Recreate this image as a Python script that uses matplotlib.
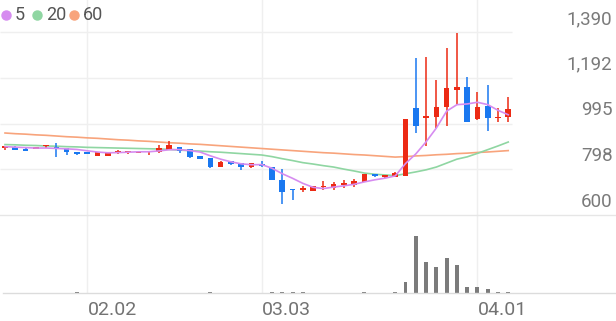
import matplotlib
matplotlib.use("Agg")
import matplotlib.pyplot as plt
import pandas as pd
from matplotlib.lines import Line2D

plt.rcParams["font.family"] = ["Roboto", "DejaVu Sans"]

# 일봉 OHLC (50거래일)
opens = [890, 895, 885, 885, 896, 891, 889, 872, 868, 855,
         856, 872, 870, 868, 870, 872, 881, 893, 885, 855,
         846, 807, 833, 823, 806, 821, 807, 751, 711, 710,
         705, 720, 717, 730, 730, 742, 777, 766, 765, 770,
         1063, 1017, 1024, 1065, 1140, 1154, 1014, 1071, 1017, 1022]
highs = [897, 896, 893, 895, 902, 911, 890, 873, 869, 873,
         872, 880, 876, 873, 876, 902, 919, 895, 887, 856,
         847, 831, 834, 825, 824, 833, 808, 799, 711, 725,
         726, 747, 742, 751, 755, 778, 778, 773, 784, 1015,
         1279, 1281, 1183, 1322, 1387, 1194, 1132, 1161, 1063, 1111]
lows = [882, 880, 876, 883, 889, 850, 859, 859, 862, 854,
        855, 863, 864, 866, 859, 868, 880, 867, 848, 840,
        805, 806, 817, 794, 805, 809, 750, 646, 665, 699,
        704, 708, 708, 717, 721, 741, 764, 760, 764, 769,
        953, 899, 974, 984, 1075, 1000, 1009, 963, 1003, 1000]
closes = [896, 881, 877, 893, 899, 887, 872, 864, 864, 872,
          871, 876, 873, 872, 873, 889, 902, 876, 850, 842,
          807, 830, 819, 806, 823, 810, 751, 701, 707, 714,
          725, 724, 733, 734, 747, 777, 768, 769, 783, 1014,
          984, 1029, 1067, 1147, 1154, 1000, 1065, 1017, 1024, 1058]
volume = [4, 4, 4, 4, 4, 4, 4, 8, 4, 4,
          4, 4, 4, 4, 4, 4, 4, 4, 4, 4,
          6, 4, 4, 4, 4, 4, 8, 12, 10, 8,
          4, 4, 4, 4, 4, 6, 5, 4, 8, 110,
          575, 315, 260, 355, 280, 60, 60, 45, 12, 12]

ma5_head = [895, 893, 891, 889]
ma20 = [904, 903, 901, 900, 898, 897, 895, 894, 892, 891,
        890, 889, 888, 887, 886, 885, 883, 880, 878, 876,
        873, 871, 868, 865, 862, 859, 852, 843, 835, 826,
        820, 813, 807, 798, 790, 781, 776, 773, 770, 778,
        786, 795, 807, 824, 841, 851, 866, 882, 898, 915]
ma60 = [954, 951, 949, 946, 944, 941, 938, 936, 933, 931,
        928, 925, 923, 920, 918, 915, 912, 910, 907, 905,
        902, 899, 896, 893, 890, 887, 884, 881, 878, 875,
        872, 869, 867, 864, 861, 859, 856, 853, 850, 852,
        855, 857, 860, 862, 865, 867, 870, 872, 875, 878]

price_ticks = [600, 798, 995, 1192, 1390]
date_pos = [8, 25, 46]
date_labels = ["02.02", "03.03", "04.01"]

RED, BLUE = "#ec2a14", "#1a78f0"
C5, C20, C60 = "#d68cf0", "#8fd6a2", "#f8a47c"
GRID = "#efefef"

n = len(closes)
ma5 = ma5_head + list(pd.Series(closes).rolling(5).mean()[4:])

W, H = 616, 321
fig = plt.figure(figsize=(W / 100, H / 100), dpi=100)
ax = fig.add_axes([0, (H - 215) / H, 540 / W, 215 / H])
axv = fig.add_axes([0, (H - 293) / H, 540 / W, 78 / H])

x0 = -5 / 10.27
x1 = 535 / 10.27
for a in (ax, axv):
    a.set_xlim(x0, x1)
    a.axis("off")
    for p in date_pos:
        a.axvline(p, color=GRID, lw=1, zorder=0)

ax.set_ylim(600, 600 + 215 * (1390 - 600) / 183)
ax.hlines(price_ticks[1:], x0, 49.4, color=GRID, lw=1, zorder=0)

# 이동평균
xs = list(range(n))
ax.plot(xs, ma60, color=C60, lw=1.2, zorder=1)
ax.plot(xs, ma20, color=C20, lw=1.2, zorder=1)
ax.plot(xs, ma5, color=C5, lw=1.2, zorder=4)

# 캔들
for i in range(n):
    o, h, l, c = opens[i], highs[i], lows[i], closes[i]
    col = RED if c >= o else BLUE
    ax.vlines(i, l, h, color=col, lw=1.1, zorder=2)
    body = max(abs(c - o), 6)
    ax.bar(i, body, bottom=min(o, c), width=0.55, color=col, zorder=3)

# 거래량
axv.set_ylim(0, max(volume) * 78 / 57.5)
axv.bar(xs, volume, width=0.38, color="#7b7b7b", zorder=2)

# 구분선
fig.add_artist(Line2D([0, 1], [(H - 215) / H] * 2, color="#e6e6e6", lw=1,
                      transform=fig.transFigure))
fig.add_artist(Line2D([3 / W, 1], [(H - 293) / H] * 2, color="#dcdcdc", lw=1,
                      transform=fig.transFigure))

# 가격 라벨 (오른쪽)
for p in price_ticks:
    ax.annotate(f"{p:,}", xy=(612.5 / W, p), xycoords=("figure fraction", "data"),
                xytext=(0, 9.4), textcoords="offset points", ha="right", va="center",
                fontsize=13.5, color="#7a7a7a", annotation_clip=False)

# 날짜 라벨
for p, lab in zip(date_pos, date_labels):
    axv.annotate(lab, xy=(p, 0), xycoords=("data", "axes fraction"),
                 xytext=(0.3, -12.3), textcoords="offset points", ha="left", va="center",
                 fontsize=14, color="#737373", annotation_clip=False)

# 범례
for cx, tx, c, lab in [(6, 15, C5, "5"), (37, 46, C20, "20"), (74, 83, C60, "60")]:
    fig.add_artist(Line2D([cx / W], [(H - 15) / H], marker="o", ms=6.5, color=c,
                          transform=fig.transFigure))
    fig.text(tx / W, (H - 15) / H, lab, ha="left", va="center", fontsize=13,
             color="#555555")

fig.savefig("out.png", dpi=100)
